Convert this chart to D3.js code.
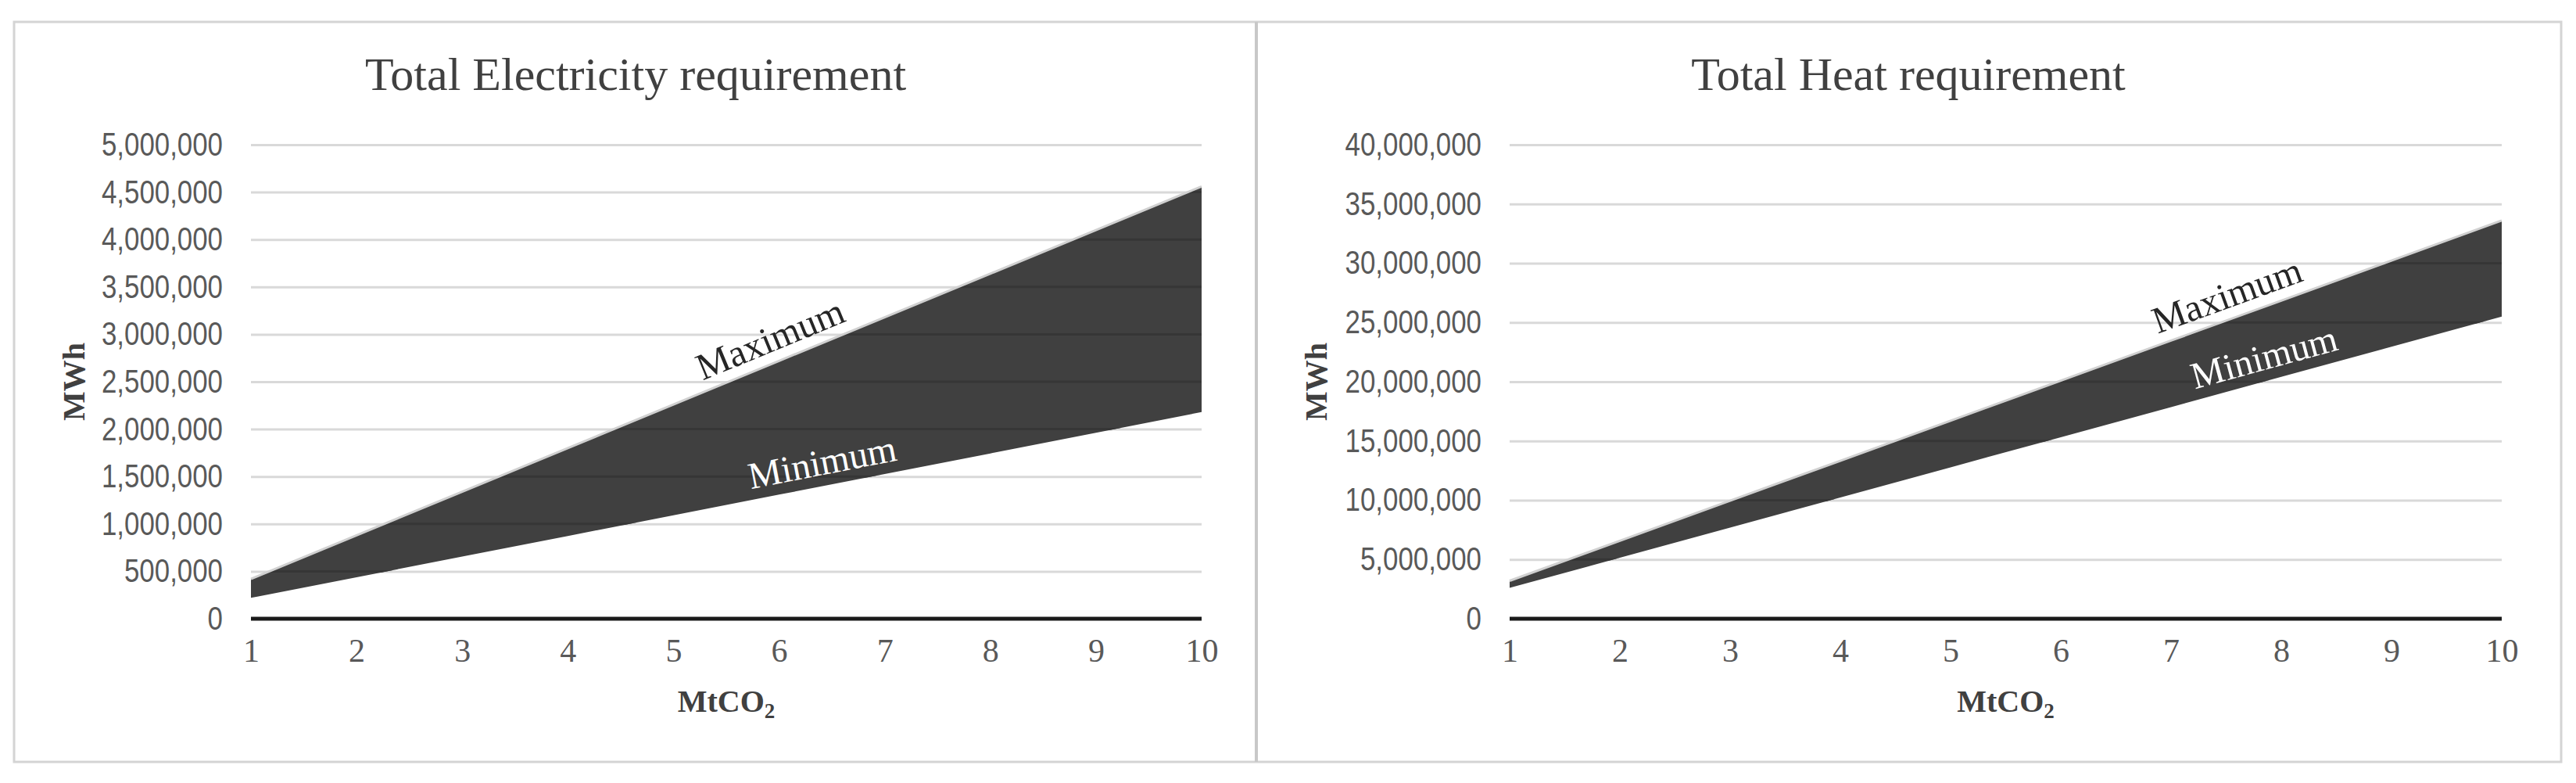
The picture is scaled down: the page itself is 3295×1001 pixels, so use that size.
<!DOCTYPE html>
<html>
<head>
<meta charset="utf-8">
<script src="https://cdn.jsdelivr.net/npm/d3@7"></script>
<style>
  body { margin: 0; background: #fff; }
  svg { display: block; }
</style>
</head>
<body>
<div class="chart"></div>
<script>
var w = 3295;
var h = 1001;

// MtCO2 captured
var mtco2 = [1, 2, 3, 4, 5, 6, 7, 8, 9, 10];

// MWh
var elecMax = [420000, 880000, 1340000, 1800000, 2260000, 2720000, 3180000, 3640000, 4100000, 4560000];
var elecMin = [220000, 438000, 656000, 873000, 1091000, 1309000, 1527000, 1744000, 1962000, 2180000];
var heatMax = [3200000, 6580000, 9960000, 13330000, 16710000, 20090000, 23470000, 26840000, 30220000, 33600000];
var heatMin = [2600000, 5150000, 7690000, 10230000, 12780000, 15320000, 17860000, 20410000, 22950000, 25500000];

var elecTicks = [0, 500000, 1000000, 1500000, 2000000, 2500000, 3000000, 3500000, 4000000, 4500000, 5000000];
var heatTicks = [0, 5000000, 10000000, 15000000, 20000000, 25000000, 30000000, 35000000, 40000000];

var titles = ["Total Electricity requirement", "Total Heat requirement"];

var serif = "'Liberation Serif', 'Times New Roman', serif";
var sans = "'Liberation Sans', Arial, sans-serif";
var grey = "#595959";

var svg = d3.select(".chart")
    .append("svg")
    .attr("width", w)
    .attr("height", h);

// frame of the two panels
svg.append("rect")
    .attr("x", 18)
    .attr("y", 28)
    .attr("width", 3258)
    .attr("height", 946)
    .attr("fill", "none")
    .attr("stroke", "#d4d4d4")
    .attr("stroke-width", 3);

svg.append("line")
    .attr("x1", 1607).attr("x2", 1607)
    .attr("y1", 28).attr("y2", 974)
    .attr("stroke", "#c8c8c8")
    .attr("stroke-width", 4);

function drawChart(cfg) {
    var xScale = d3.scaleLinear()
        .domain([1, 10])
        .range([cfg.left, cfg.right]);

    var yScale = d3.scaleLinear()
        .domain([0, cfg.ticks[cfg.ticks.length - 1]])
        .range([cfg.bottom, cfg.top]);

    var g = svg.append("g");

    // title
    g.append("text")
        .attr("x", cfg.panelMid)
        .attr("y", 115)
        .attr("text-anchor", "middle")
        .attr("font-family", serif)
        .attr("font-size", 60)
        .attr("fill", "#404040")
        .text(cfg.title);

    // gridlines + y labels
    var yAxis = g.append("g")
        .attr("transform", "translate(" + cfg.left + ",0)")
        .call(d3.axisLeft(yScale)
            .tickValues(cfg.ticks)
            .tickSize(-(cfg.right - cfg.left))
            .tickPadding(36)
            .tickFormat(d3.format(",")));

    yAxis.select(".domain").remove();
    yAxis.selectAll(".tick line")
        .attr("stroke", "#d9d9d9")
        .attr("stroke-width", 3);
    // the labels in the picture are a narrow sans, so squeeze them a bit
    yAxis.selectAll(".tick text")
        .attr("font-family", sans)
        .attr("font-size", 42)
        .attr("fill", grey)
        .each(function() {
            var len = this.getComputedTextLength();
            d3.select(this)
                .attr("textLength", len * 0.83)
                .attr("lengthAdjust", "spacingAndGlyphs");
        });

    var rows = mtco2.map(function(d, i) {
        return { x: d, max: cfg.max[i], min: cfg.min[i] };
    });

    var area = d3.area()
        .x(function(d) { return xScale(d.x); })
        .y0(function(d) { return yScale(d.min); })
        .y1(function(d) { return yScale(d.max); });

    g.append("path")
        .datum(rows)
        .attr("d", area)
        .attr("fill", "#404040");

    // faint gridlines seen through the band
    g.append("clipPath")
        .attr("id", cfg.id + "-clip")
        .append("path")
        .datum(rows)
        .attr("d", area);

    g.append("g")
        .attr("clip-path", "url(#" + cfg.id + "-clip)")
        .selectAll("line")
        .data(cfg.ticks)
        .enter()
        .append("line")
        .attr("x1", cfg.left)
        .attr("x2", cfg.right)
        .attr("y1", function(d) { return yScale(d); })
        .attr("y2", function(d) { return yScale(d); })
        .attr("stroke", "#363636")
        .attr("stroke-width", 3);

    // light edge along the maximum
    g.append("path")
        .datum(rows)
        .attr("d", d3.line()
            .x(function(d) { return xScale(d.x); })
            .y(function(d) { return yScale(d.max); }))
        .attr("fill", "none")
        .attr("stroke", "#d0d0d0")
        .attr("stroke-width", 3);

    // zero axis
    g.append("line")
        .attr("x1", cfg.left)
        .attr("x2", cfg.right)
        .attr("y1", yScale(0))
        .attr("y2", yScale(0))
        .attr("stroke", "#1a1a1a")
        .attr("stroke-width", 5);

    // x labels
    var xAxis = g.append("g")
        .attr("transform", "translate(0," + yScale(0) + ")")
        .call(d3.axisBottom(xScale)
            .tickValues(mtco2)
            .tickSize(0)
            .tickPadding(25)
            .tickFormat(d3.format("d")));

    xAxis.select(".domain").remove();
    xAxis.selectAll(".tick text")
        .attr("font-family", serif)
        .attr("font-size", 42)
        .attr("fill", grey);

    // axis titles
    var xt = g.append("text")
        .attr("x", (cfg.left + cfg.right) / 2)
        .attr("y", 910)
        .attr("text-anchor", "middle")
        .attr("font-family", serif)
        .attr("font-weight", "bold")
        .attr("font-size", 40)
        .attr("fill", "#404040");
    xt.append("tspan").text("MtCO");
    xt.append("tspan")
        .attr("font-size", 27)
        .attr("dy", 8)
        .text("2");

    g.append("text")
        .attr("transform", "translate(" + cfg.yTitleX + "," + (cfg.top + cfg.bottom) / 2 + ") rotate(-90)")
        .attr("text-anchor", "middle")
        .attr("font-family", serif)
        .attr("font-weight", "bold")
        .attr("font-size", 40)
        .attr("fill", "#404040")
        .text("MWh");

    // labels that sit along the edges of the band
    function edgeLabel(series, at, text, colour) {
        var i = Math.floor(at) - 1;
        var t = at - Math.floor(at);
        var v = series[i] + (series[i + 1] - series[i]) * t;
        var dx = xScale(10) - xScale(1);
        var dy = yScale(series[9]) - yScale(series[0]);
        var ang = Math.atan2(dy, dx) * 180 / Math.PI;
        g.append("text")
            .attr("transform", "translate(" + xScale(at) + "," + yScale(v) + ") rotate(" + ang + ")")
            .attr("y", -14)
            .attr("text-anchor", "middle")
            .attr("font-family", serif)
            .attr("font-size", 48)
            .attr("fill", colour)
            .text(text);
    }

    edgeLabel(cfg.max, cfg.maxAt, "Maximum", "#262626");
    edgeLabel(cfg.min, cfg.minAt, "Minimum", "#ffffff");
}

drawChart({
    id: "elec",
    title: titles[0],
    panelMid: 813,
    left: 321, right: 1537, top: 185, bottom: 791,
    yTitleX: 108,
    ticks: elecTicks,
    max: elecMax,
    min: elecMin,
    maxAt: 6.0,
    minAt: 6.45
});

drawChart({
    id: "heat",
    title: titles[1],
    panelMid: 2441,
    left: 1931, right: 3200, top: 185, bottom: 791,
    yTitleX: 1697,
    ticks: heatTicks,
    max: heatMax,
    min: heatMin,
    maxAt: 7.58,
    minAt: 7.9
});
</script>
</body>
</html>
